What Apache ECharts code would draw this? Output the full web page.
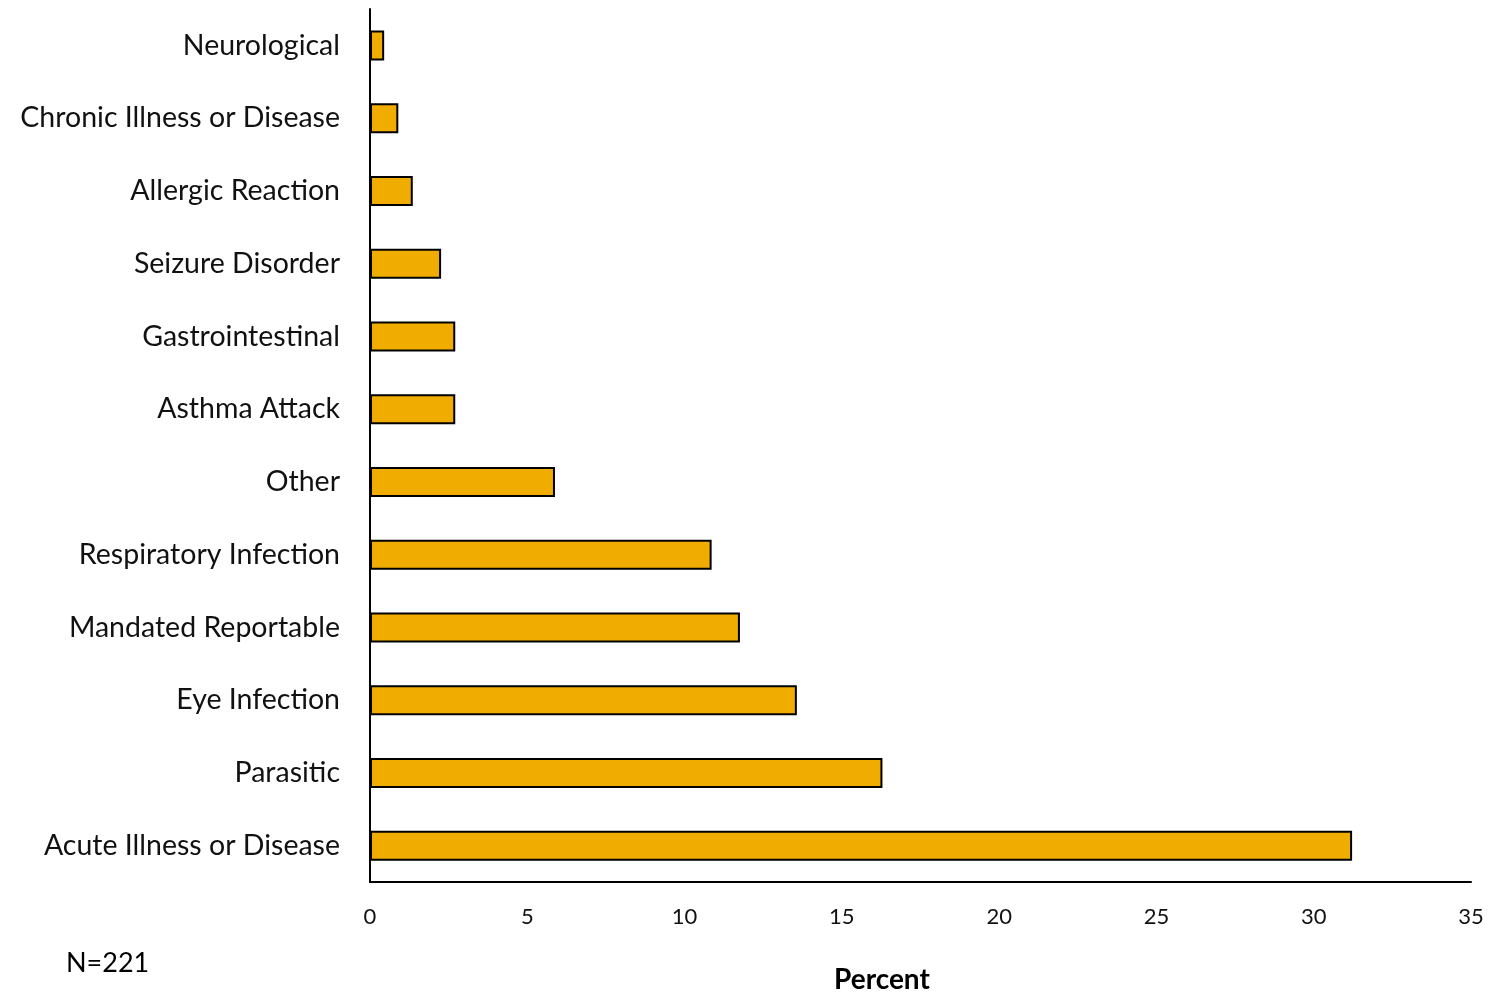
<!DOCTYPE html>
<html><head><meta charset="utf-8">
<script src="https://cdn.jsdelivr.net/npm/echarts@6/dist/echarts.min.js"></script>
<style>html,body{margin:0;padding:0;background:#fff}#c{width:1490px;height:997px}</style>
</head><body><div id="c"></div>
<script>
const categories = ['Acute Illness or Disease','Parasitic','Eye Infection','Mandated Reportable','Respiratory Infection','Other','Asthma Attack','Gastrointestinal','Seizure Disorder','Allergic Reaction','Chronic Illness or Disease','Neurological'];
const percentValues = [31.22, 16.29, 13.57, 11.76, 10.86, 5.88, 2.71, 2.71, 2.26, 1.36, 0.90, 0.45];
const xTicks = [0, 5, 10, 15, 20, 25, 30, 35];
const FONT = 'Lato';
const chart = echarts.init(document.getElementById('c'));
chart.setOption({
  animation: false,
  grid: {left: 370, right: 19, top: 9, bottom: 115, containLabel: false},
  xAxis: {
    type: 'value', min: xTicks[0], max: xTicks[xTicks.length-1], interval: 5,
    axisLine: {show: true, lineStyle: {color: '#000', width: 2}},
    axisTick: {show: false}, splitLine: {show: false},
    axisLabel: {color: '#111', fontSize: 22, fontFamily: FONT, margin: 24}
  },
  yAxis: {
    type: 'category', data: categories,
    axisLine: {show: true, lineStyle: {color: '#000', width: 2}},
    axisTick: {show: false},
    axisLabel: {color: '#111', fontSize: 28.5, fontFamily: FONT, margin: 30}
  },
  series: [{
    type: 'bar', data: percentValues, barWidth: 30,
    itemStyle: {color: '#F0AD00', borderColor: '#000', borderWidth: 2}
  }],
  graphic: [
    {type: 'text', left: 834, top: 966, style: {text: 'Percent', font: 'bold 28px ' + FONT, fill: '#000'}},
    {type: 'text', left: 66, top: 950, style: {text: 'N=221', font: '27px ' + FONT, fill: '#000'}}
  ]
});
</script></body></html>
